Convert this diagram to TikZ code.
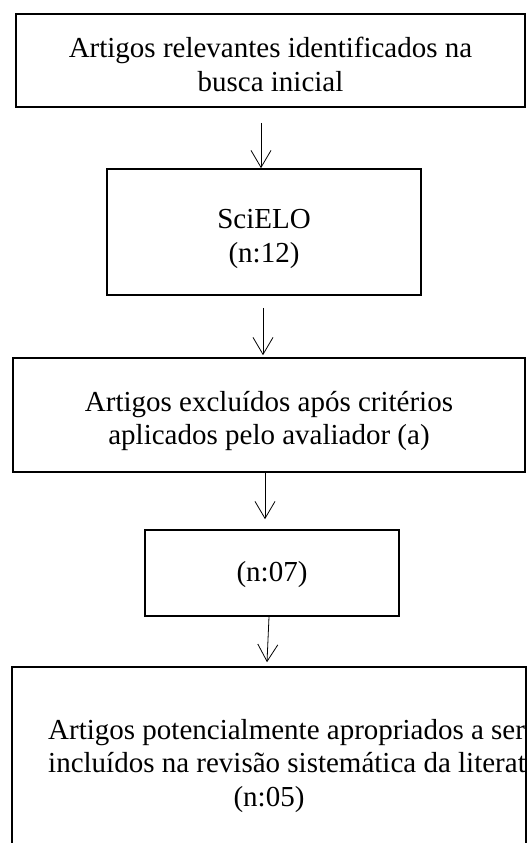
\documentclass[tikz,border=0pt]{standalone}
\usepackage{fontspec}
\setmainfont{Liberation Serif}
\usetikzlibrary{arrows.meta}

\begin{document}
\begin{tikzpicture}[x=1pt, y=-1pt,
  box/.style={draw, line width=1.6pt, inner sep=0pt},
  txt/.style={inner sep=0pt, align=center, font=\fontsize{29}{33.6}\selectfont},
  flow/.style={line width=0.8pt, -{Straight Barb[length=17pt, width=20pt, line width=0.8pt]}}]
\clip (0,0) rectangle (531,843);

% Busca inicial
\node[box, minimum width=509pt, minimum height=93pt] (busca) at (270.5,60.5) {};
\node[txt] (busca-t) at ([yshift=-4pt]busca.center) {Artigos relevantes identificados na\\busca inicial};

% SciELO
\node[box, minimum width=314pt, minimum height=126pt] (scielo) at (264,232) {};
\node[txt] (scielo-t) at ([yshift=-7pt]scielo.center) {SciELO\\(n:12)};

% Excluidos
\node[box, minimum width=512pt, minimum height=114pt] (excl) at (269,415) {};
\node[txt] (excl-t) at ([yshift=-6pt]excl.center) {Artigos excluídos após critérios\\aplicados pelo avaliador (a)};

% n:07
\node[box, minimum width=254pt, minimum height=86pt] (n07) at (272,573) {};
\node[txt] (n07-t) at ([yshift=-2pt]n07.center) {(n:07)};

% Incluidos (runs off the page)
\node[box, minimum width=513.5pt, minimum height=196pt] (incl) at (269,765) {};
\begin{scope}
\clip (incl.north west) rectangle (incl.south east);
\node[txt, anchor=west, align=left] (incl-t) at (48,746) {Artigos potencialmente apropriados a ser\\incluídos na revisão sistemática da literat};
\end{scope}
\node[txt, anchor=base] (n05) at ([yshift=-33.6pt]incl-t.base -| incl.north) {(n:05)};

% Arrows
\draw[flow] ([shift={(-9.5pt,-15pt)}]busca.south) -- ([xshift=-3pt]scielo.north);
\draw[flow] ([shift={(-1pt,-12pt)}]scielo.south) -- ([shift={(-6pt,2pt)}]excl.north);
\draw[flow] ([xshift=-4pt]excl.south) -- ([shift={(-7pt,10pt)}]n07.north);
\draw[flow] ([xshift=-3pt]n07.south) -- ([shift={(-2pt,4pt)}]incl.north);
\end{tikzpicture}
\end{document}
